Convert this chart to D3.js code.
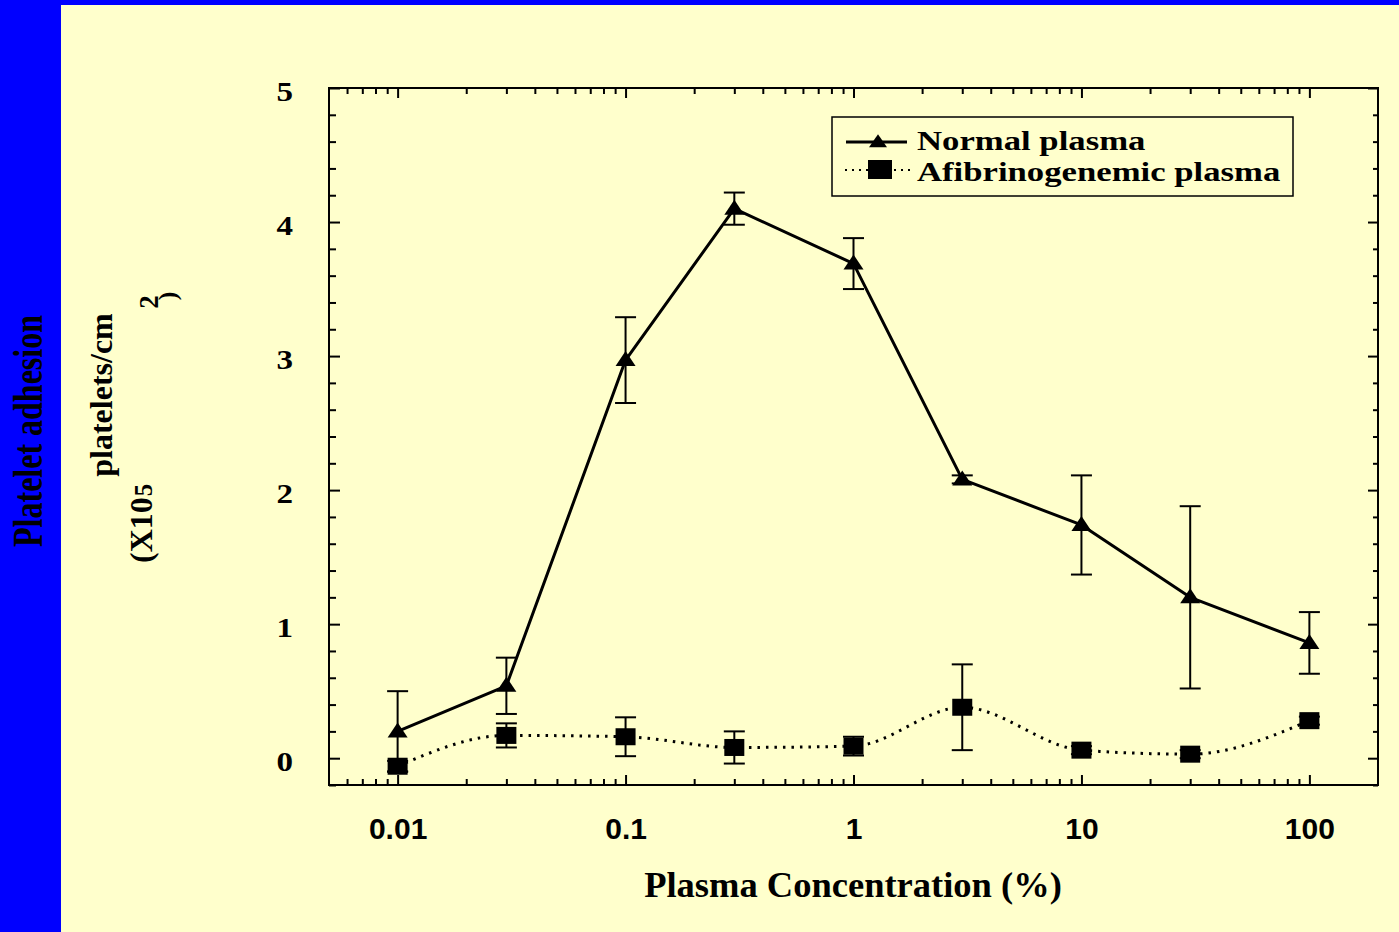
<!DOCTYPE html>
<html>
<head>
<meta charset="utf-8">
<script src="https://cdn.jsdelivr.net/npm/d3@7"></script>
<style>
html,body{margin:0;padding:0;background:#0000FF;}
svg{display:block;}
</style>
</head>
<body>
<svg id="chart" width="1399" height="932"></svg>
<script>
// ---- data ----
const concentrations = [0.01, 0.03, 0.1, 0.3, 1, 3, 10, 30, 100];
const normalValues = [0.20, 0.54, 2.97, 4.10, 3.69, 2.08, 1.74, 1.20, 0.86];
const normalErrors = [0.30, 0.21, 0.32, 0.12, 0.19, 0.03, 0.37, 0.68, 0.23];
const afibValues   = [-0.06, 0.17, 0.16, 0.08, 0.09, 0.38, 0.06, 0.03, 0.28];
const afibErrors   = [0.04, 0.09, 0.145, 0.12, 0.07, 0.32, 0.03, 0.03, 0.03];
const seriesNames = ["Normal plasma", "Afibrinogenemic plasma"];
const xTickValues = [0.01, 0.1, 1, 10, 100];
const xTickLabels = ["0.01", "0.1", "1", "10", "100"];
const yTickValues = [0, 1, 2, 3, 4, 5];
const yTickLabels = ["0", "1", "2", "3", "4", "5"];
const xTitle = "Plasma Concentration (%)";
const yTitleOuter = "Platelet adhesion";
const yTitleLine1 = "platelets/cm";
const yTitleLine2 = "(X10";

const svg = d3.select("#chart");
const W = 1399, H = 932;

// background panel
svg.append("rect").attr("x", 0).attr("y", 0).attr("width", W).attr("height", H).attr("fill", "#0000FF");
svg.append("rect").attr("x", 61).attr("y", 5).attr("width", W - 61).attr("height", H - 5).attr("fill", "#FFFFCC");

const plot = {left: 329, right: 1378, top: 88, bottom: 785};
const x = d3.scaleLog().domain([0.005, 200]).range([plot.left, plot.right]);
const y = d3.scaleLinear().domain([-0.2, 5]).range([plot.bottom, plot.top]);

// minor ticks
const xMinor = [];
[-3, -2, -1, 0, 1, 2].forEach(e => {
  for (let k = 2; k <= 9; k++) {
    const v = +(k * Math.pow(10, e)).toPrecision(6);
    if (v > 0.0055 && v < 190) xMinor.push(v);
  }
});
const yMinor = d3.range(-0.2, 5.0001, 0.2).map(v => +v.toFixed(2)).filter(v => Math.abs(v - Math.round(v)) > 1e-6);

const axisStyle = g => {
  g.select(".domain").remove();
  g.selectAll(".tick line").attr("stroke", "#000").attr("stroke-width", 2);
};

// bottom
svg.append("g").attr("transform", `translate(0,${plot.bottom})`)
  .call(d3.axisBottom(x).tickValues(xMinor).tickSize(-6).tickFormat(""))
  .call(axisStyle);
svg.append("g").attr("transform", `translate(0,${plot.bottom})`)
  .call(d3.axisBottom(x).tickValues(xTickValues).tickSize(-10).tickPadding(33)
    .tickFormat((d, i) => xTickLabels[i]))
  .call(axisStyle)
  .call(g => g.selectAll("text")
    .attr("fill", "#000")
    .style("font-family", "'Liberation Sans', Arial, sans-serif")
    .style("font-weight", "bold")
    .style("font-size", "30px"));
// top
svg.append("g").attr("transform", `translate(0,${plot.top})`)
  .call(d3.axisTop(x).tickValues(xMinor).tickSize(-6).tickFormat(""))
  .call(axisStyle);
svg.append("g").attr("transform", `translate(0,${plot.top})`)
  .call(d3.axisTop(x).tickValues(xTickValues).tickSize(-10).tickFormat(""))
  .call(axisStyle);
// left
svg.append("g").attr("transform", `translate(${plot.left},0)`)
  .call(d3.axisLeft(y).tickValues(yMinor).tickSize(-7).tickFormat(""))
  .call(axisStyle);
svg.append("g").attr("transform", `translate(${plot.left},0)`)
  .call(d3.axisLeft(y).tickValues(yTickValues).tickSize(-11).tickFormat(""))
  .call(axisStyle);
// right
svg.append("g").attr("transform", `translate(${plot.right},0)`)
  .call(d3.axisRight(y).tickValues(yMinor).tickSize(-5).tickFormat(""))
  .call(axisStyle);
svg.append("g").attr("transform", `translate(${plot.right},0)`)
  .call(d3.axisRight(y).tickValues(yTickValues).tickSize(-10).tickFormat(""))
  .call(axisStyle);

// frame
svg.append("rect")
  .attr("x", plot.left).attr("y", plot.top)
  .attr("width", plot.right - plot.left).attr("height", plot.bottom - plot.top)
  .attr("fill", "none").attr("stroke", "#000").attr("stroke-width", 2);

// y tick labels
const serif = "'Liberation Serif', 'Times New Roman', serif";
svg.append("g").selectAll("text").data(yTickValues).join("text")
  .attr("transform", d => `translate(293,${y(d) + 12.5}) scale(1.18,1)`)
  .attr("text-anchor", "end")
  .style("font-family", serif).style("font-weight", "bold").style("font-size", "28px")
  .attr("fill", "#000")
  .text((d, i) => yTickLabels[i]);

// x title
svg.append("text")
  .attr("x", 853).attr("y", 897)
  .attr("text-anchor", "middle")
  .style("font-family", serif).style("font-weight", "bold").style("font-size", "36.5px")
  .attr("fill", "#000")
  .text(xTitle);

// y titles
svg.append("text")
  .attr("transform", "translate(42,431) rotate(-90) scale(1,1.35)")
  .attr("text-anchor", "middle")
  .style("font-family", serif).style("font-weight", "bold").style("font-size", "32px")
  .attr("fill", "#000")
  .text(yTitleOuter);
svg.append("text")
  .attr("transform", "translate(112,395) rotate(-90)")
  .attr("text-anchor", "middle")
  .style("font-family", serif).style("font-weight", "bold").style("font-size", "32px")
  .attr("fill", "#000")
  .text(yTitleLine1);
const t2 = svg.append("text")
  .attr("transform", "translate(152,563) rotate(-90)")
  .attr("text-anchor", "start")
  .style("font-family", serif).style("font-weight", "bold").style("font-size", "32px")
  .attr("fill", "#000");
t2.append("tspan").text(yTitleLine2);
t2.append("tspan").style("font-size", "25px").attr("dx", 1).text("5");
svg.append("text")
  .attr("transform", "translate(158,302) rotate(-90)")
  .attr("text-anchor", "middle")
  .style("font-family", serif).style("font-weight", "bold").style("font-size", "27px")
  .attr("fill", "#000")
  .text("2");
svg.append("text")
  .attr("transform", "translate(176,296) rotate(-90)")
  .attr("text-anchor", "middle")
  .style("font-family", serif).style("font-weight", "bold").style("font-size", "26px")
  .attr("fill", "#000")
  .text(")");

// data
const normal = concentrations.map((c, i) => ({c, v: normalValues[i], e: normalErrors[i]}));
const afib = concentrations.map((c, i) => ({c, v: afibValues[i], e: afibErrors[i]}));

// lines
svg.append("path").datum(afib)
  .attr("d", d3.line().x(d => x(d.c)).y(d => y(d.v)).curve(d3.curveMonotoneX))
  .attr("fill", "none").attr("stroke", "#000").attr("stroke-width", 3)
  .attr("stroke-dasharray", "2.5,6");
svg.append("path").datum(normal)
  .attr("d", d3.line().x(d => x(d.c)).y(d => y(d.v)))
  .attr("fill", "none").attr("stroke", "#000").attr("stroke-width", 3)
  .attr("stroke-linejoin", "round");

// error bars
function errorBars(data) {
  const g = svg.append("g").attr("stroke", "#000").attr("stroke-width", 2);
  data.forEach(d => {
    const cx = x(d.c), y1 = y(d.v + d.e), y2 = y(d.v - d.e);
    g.append("line").attr("x1", cx).attr("x2", cx).attr("y1", y1).attr("y2", y2);
    g.append("line").attr("x1", cx - 10.5).attr("x2", cx + 10.5).attr("y1", y1).attr("y2", y1);
    g.append("line").attr("x1", cx - 10.5).attr("x2", cx + 10.5).attr("y1", y2).attr("y2", y2);
  });
}
errorBars(afib);
errorBars(normal);

// markers
const triPath = (w, h) => `M0,${-h * 0.6}L${w / 2},${h * 0.4}L${-w / 2},${h * 0.4}Z`;
svg.append("g").selectAll("rect").data(afib).join("rect")
  .attr("x", d => x(d.c) - 10).attr("y", d => y(d.v) - 8.5)
  .attr("width", 20).attr("height", 17).attr("fill", "#000");
svg.append("g").selectAll("path").data(normal).join("path")
  .attr("transform", d => `translate(${x(d.c)},${y(d.v)})`)
  .attr("d", triPath(20, 15)).attr("fill", "#000");

// legend
const lg = svg.append("g");
lg.append("rect").attr("x", 832).attr("y", 117).attr("width", 461).attr("height", 79)
  .attr("fill", "none").attr("stroke", "#000").attr("stroke-width", 1.5);
lg.append("line").attr("x1", 846).attr("x2", 907).attr("y1", 142).attr("y2", 142)
  .attr("stroke", "#000").attr("stroke-width", 3);
lg.append("path").attr("transform", "translate(878,142)").attr("d", triPath(18, 13)).attr("fill", "#000");
lg.append("line").attr("x1", 845).attr("x2", 910).attr("y1", 170).attr("y2", 170)
  .attr("stroke", "#000").attr("stroke-width", 2).attr("stroke-dasharray", "2,5");
lg.append("rect").attr("x", 868).attr("y", 160).attr("width", 24).attr("height", 19).attr("fill", "#000");
lg.selectAll("text.lab").data(seriesNames).join("text")
  .attr("class", "lab")
  .attr("transform", (d, i) => `translate(917,${i === 0 ? 150 : 181}) scale(1.24,1)`)
  .style("font-family", serif).style("font-weight", "bold").style("font-size", "28px")
  .attr("fill", "#000")
  .text(d => d);
</script>
</body>
</html>
